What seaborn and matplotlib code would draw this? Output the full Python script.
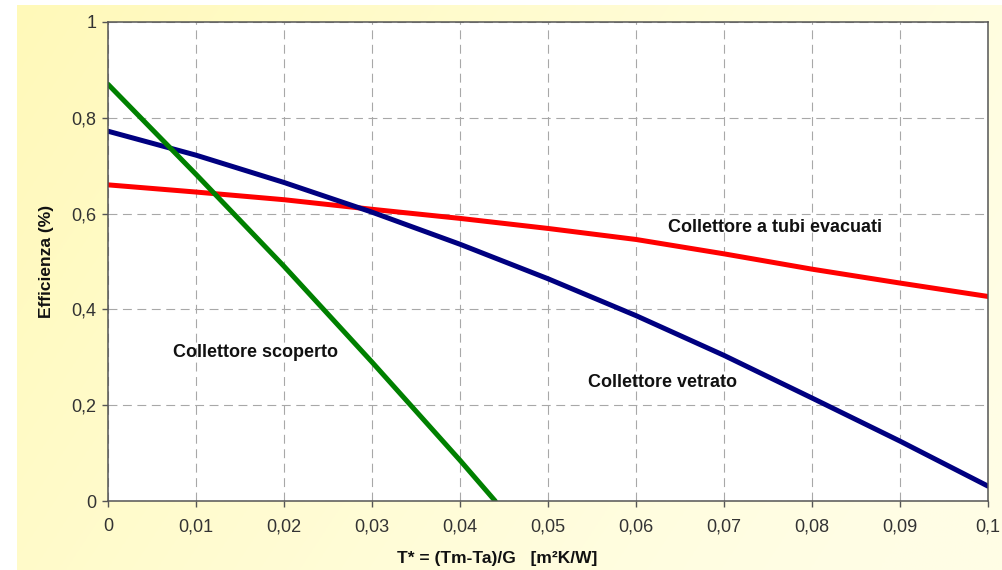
import matplotlib

matplotlib.use("Agg", force=True)

import matplotlib.pyplot as plt
import seaborn as sns
import pandas as pd
import numpy as np
from matplotlib.ticker import FuncFormatter, MultipleLocator

# Data (T* in m2K/W, efficiency as fraction)
x_evacuati = [0, 0.01, 0.02, 0.03, 0.04, 0.05, 0.06, 0.07, 0.08, 0.09, 0.1]
y_evacuati = [0.66, 0.645, 0.629, 0.609, 0.59, 0.569, 0.546, 0.516, 0.484, 0.455, 0.427]

x_vetrato = [0, 0.01, 0.02, 0.03, 0.04, 0.05, 0.06, 0.07, 0.08, 0.09, 0.1]
y_vetrato = [0.772, 0.722, 0.665, 0.603, 0.536, 0.464, 0.387, 0.304, 0.215, 0.125, 0.031]

x_scoperto = [0, 0.01, 0.02, 0.03, 0.04, 0.044]
y_scoperto = [0.87, 0.682, 0.49, 0.29, 0.085, 0.0]

series_names = ["Collettore a tubi evacuati", "Collettore vetrato", "Collettore scoperto"]
series_colors = ["#ff0000", "#000080", "#008000"]

# Build one long table for seaborn
df = pd.concat([
    pd.DataFrame({"T": x_evacuati, "eff": y_evacuati, "serie": series_names[0]}),
    pd.DataFrame({"T": x_vetrato, "eff": y_vetrato, "serie": series_names[1]}),
    pd.DataFrame({"T": x_scoperto, "eff": y_scoperto, "serie": series_names[2]}),
], ignore_index=True)

sns.set_style("white")
plt.rcParams["font.family"] = ["Liberation Sans", "DejaVu Sans"]

W, H = 1002, 570
fig = plt.figure(figsize=(W / 100, H / 100), dpi=100)
fig.patch.set_facecolor("white")

# Pale yellow gradient background (slide style)
bg = fig.add_axes([17 / W, 0, (W - 17) / W, 1 - 5 / H], zorder=-5)
gx, gy = np.meshgrid(np.linspace(0, 1, 300), np.linspace(0, 1, 200))
a = np.clip(1.0 - 0.8 * gx - 0.3 * gy, 0, 1) ** 1.3
a = 0.2 + 0.8 * a
yellow = np.array([255, 249, 185]) / 255
white = np.array([255, 255, 240]) / 255
img = white[None, None, :] * (1 - a[..., None]) + yellow[None, None, :] * a[..., None]
bg.imshow(img, aspect="auto", extent=[0, 1, 0, 1], origin="upper")
bg.axis("off")

ax = fig.add_axes([108 / W, 1 - 501 / H, 880 / W, 479 / H])
ax.set_facecolor("white")

sns.lineplot(data=df, x="T", y="eff", hue="serie",
             palette=dict(zip(series_names, series_colors)),
             linewidth=3.6, legend=False, ax=ax, sort=False)

ax.set_xlim(0, 0.1)
ax.set_ylim(0, 1)
ax.xaxis.set_major_locator(MultipleLocator(0.01))
ax.yaxis.set_major_locator(MultipleLocator(0.2))
fmt = FuncFormatter(lambda v, p: f"{round(v, 4):g}".replace(".", ","))
ax.xaxis.set_major_formatter(fmt)
ax.yaxis.set_major_formatter(fmt)

ax.grid(True, color="#a8a8a8", linestyle=(0, (8, 5)), linewidth=0.8)
for s in ax.spines.values():
    s.set_color("#555555")
    s.set_linewidth(1.1)

ax.tick_params(axis="both", direction="out", length=4.5, width=1, color="#555555",
               labelsize=13, labelcolor="#333333", bottom=True, left=True)
ax.tick_params(axis="x", pad=8)
ax.tick_params(axis="y", pad=4)

ax.set_xlabel("T* = (Tm-Ta)/G   [m²K/W]", fontsize=12.5, fontweight="bold", color="#111111")
ax.set_ylabel("Efficienza (%)", fontsize=12.5, fontweight="bold", color="#111111")
ax.xaxis.set_label_coords((497 - 108) / 880, (501 - 558) / 479)
ax.xaxis.label.set_va("center")
ax.yaxis.set_label_coords((47 - 108) / 880, 0.5)
ax.yaxis.label.set_va("center")

# Curve labels
lab = dict(fontsize=13, fontweight="bold", va="center", color="#111111")
ax.text(0.0636, 0.570, series_names[0], **lab)
ax.text(0.0545, 0.248, series_names[1], **lab)
ax.text(0.0074, 0.309, series_names[2], **lab)

fig.savefig("out.png", dpi=100)
